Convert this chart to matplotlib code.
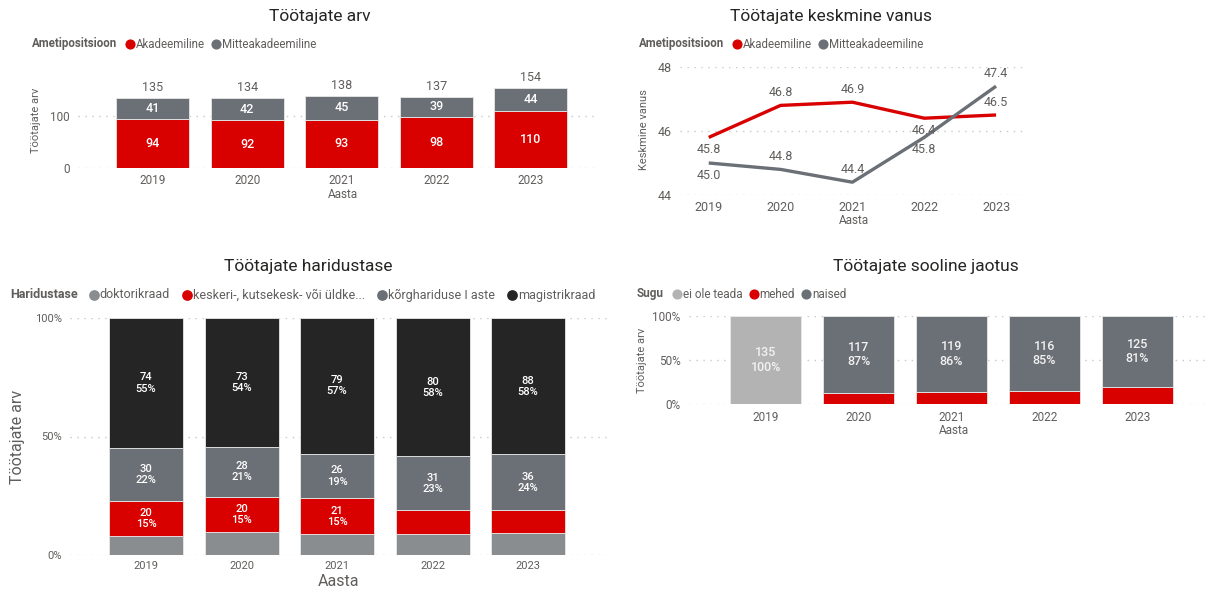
import matplotlib.pyplot as plt
from matplotlib.lines import Line2D

plt.rcParams['font.family'] = ['Roboto', 'DejaVu Sans']

years = ['2019', '2020', '2021', '2022', '2023']

akad_arv = [94, 92, 93, 98, 110]
mitteakad_arv = [41, 42, 45, 39, 44]

akad_vanus = [45.8, 46.8, 46.9, 46.4, 46.5]
mitteakad_vanus = [45.0, 44.8, 44.4, 45.8, 47.4]

doktor = [11, 13, 12, 12, 14]
keskeri = [20, 20, 21, 14, 15]
korg = [30, 28, 26, 31, 36]
magistri = [74, 73, 79, 80, 88]
haridus_labels = ['doktorikraad', 'keskeri-, kutsekesk- või üldke...',
                  'kõrghariduse I aste', 'magistrikraad']

ei_teada = [135, 0, 0, 0, 0]
mehed = [0, 17, 19, 21, 29]
naised = [0, 117, 119, 116, 125]
sugu_labels = ['ei ole teada', 'mehed', 'naised']

RED = '#D90000'
GRAY = '#6B6F76'
LGRAY = '#8A8D90'
BLACK = '#252525'
PALE = '#B3B3B3'
TXT = '#605E5C'
TITLE = '#252423'
GRID = '#C8C8C8'

W, H = 1208, 589
fig = plt.figure(figsize=(W / 100, H / 100), dpi=100)


def add_ax(x0, y0, x1, y1):
    return fig.add_axes([x0 / W, 1 - y1 / H, (x1 - x0) / W, (y1 - y0) / H])


def ftext(x, y, s, **kw):
    return fig.text(x / W, 1 - y / H, s, **kw)


def style(ax, yticks, ylabels, tsize=8.5, xpad=4):
    for s in ax.spines.values():
        s.set_visible(False)
    ax.set_yticks(yticks, ylabels)
    ax.set_xticks(range(len(years)), years)
    ax.tick_params(length=0, colors=TXT, labelsize=tsize)
    ax.tick_params(axis='x', pad=xpad)
    ax.tick_params(axis='y', pad=6)
    ax.grid(axis='y', linestyle=(0, (1, 4)), color=GRID, lw=1)
    ax.set_axisbelow(True)


def legend(x, y, title, labels, colors, size=8, g1=13, g2=11, ms=6.3):
    r = fig.canvas.get_renderer()
    t = ftext(x, y, title, fontsize=size, weight='bold', color=TXT, va='center')
    cx = t.get_window_extent(r).x1 + g1
    for lab, col in zip(labels, colors):
        fig.add_artist(Line2D([cx / W], [1 - y / H], marker='o', markersize=ms,
                              color=col, lw=0, transform=fig.transFigure))
        tt = fig.text((cx + 6) / W, 1 - y / H, lab, fontsize=size, color=TXT, va='center')
        cx = tt.get_window_extent(r).x1 + g2


x = list(range(len(years)))

# ---- Töötajate arv ----
ax1 = add_ax(78, 64, 597, 168)
ax1.bar(x, akad_arv, width=0.77, color=RED, edgecolor='#E8E8E8', lw=0.6)
ax1.bar(x, mitteakad_arv, width=0.77, bottom=akad_arv, color=GRAY, edgecolor='#E8E8E8', lw=0.6)
for i in x:
    tot = akad_arv[i] + mitteakad_arv[i]
    ax1.text(i, akad_arv[i] / 2, str(akad_arv[i]), ha='center', va='center',
             color='white', fontsize=9, weight='medium')
    ax1.text(i, akad_arv[i] + mitteakad_arv[i] / 2, str(mitteakad_arv[i]), ha='center',
             va='center', color='white', fontsize=9, weight='medium')
    ax1.annotate(str(tot), (i, tot), xytext=(0, 7.5), textcoords='offset points',
                 ha='center', va='center', color=TXT, fontsize=9)
ax1.set_xlim(-0.79, 4.70)
ax1.set_ylim(0, 200)
style(ax1, [0, 100], ['0', '100'])
ftext(320, 16, 'Töötajate arv', fontsize=12.5, color=TITLE, ha='center', va='center')
ftext(36, 120, 'Töötajate arv', fontsize=8, color=TXT, ha='center', va='center', rotation=90)
ftext(343, 194, 'Aasta', fontsize=8.5, color=TXT, ha='center', va='center')
legend(32, 44, 'Ametipositsioon', ['Akadeemiline', 'Mitteakadeemiline'], [RED, GRAY], size=8.3)

# ---- Töötajate keskmine vanus ----
ax2 = add_ax(680, 67, 1023, 195)
ax2.plot(x, akad_vanus, color=RED, lw=2.4, solid_capstyle='butt')
ax2.plot(x, mitteakad_vanus, color=GRAY, lw=2.4, solid_capstyle='butt')
akad_pos = [-1, 1, 1, -1, 1]
mitte_pos = [-1, 1, 1, -1, 1]
for i in x:
    ax2.annotate(f'{akad_vanus[i]:.1f}', (i, akad_vanus[i]), xytext=(0, 9 * akad_pos[i]),
                 textcoords='offset points', ha='center', va='center', color=TXT, fontsize=9)
    ax2.annotate(f'{mitteakad_vanus[i]:.1f}', (i, mitteakad_vanus[i]),
                 xytext=(0, 9 * mitte_pos[i]), textcoords='offset points',
                 ha='center', va='center', color=TXT, fontsize=9)
ax2.set_xlim(-0.4, 4.375)
ax2.set_ylim(44, 48)
style(ax2, [44, 46, 48], ['44', '46', '48'], tsize=9)
ftext(831, 16, 'Töötajate keskmine vanus', fontsize=12.5, color=TITLE, ha='center', va='center')
ftext(644, 130, 'Keskmine vanus', fontsize=8, color=TXT, ha='center', va='center', rotation=90)
ftext(854, 220, 'Aasta', fontsize=8.5, color=TXT, ha='center', va='center')
legend(639, 44, 'Ametipositsioon', ['Akadeemiline', 'Mitteakadeemiline'], [RED, GRAY], size=8.3)

# ---- Töötajate haridustase ----
ax3 = add_ax(70, 318, 607, 555)
series = [doktor, keskeri, korg, magistri]
cols = [LGRAY, RED, GRAY, BLACK]
totals = [sum(v) for v in zip(*series)]
bottom = [0.0] * 5
for vals, col in zip(series, cols):
    share = [v / t for v, t in zip(vals, totals)]
    ax3.bar(x, share, width=0.775, bottom=bottom, color=col, edgecolor='#E8E8E8', lw=0.6)
    for i in x:
        if share[i] >= 0.12:
            ax3.text(i, bottom[i] + share[i] / 2, f'{vals[i]}\n{round(100 * share[i])}%',
                     ha='center', va='center', color='white', fontsize=8, weight='medium',
                     linespacing=1.15)
    bottom = [b + s for b, s in zip(bottom, share)]
ax3.set_xlim(-0.796, 4.827)
ax3.set_ylim(0, 1)
style(ax3, [0, 0.5, 1], ['0%', '50%', '100%'], tsize=8)
ftext(308, 266, 'Töötajate haridustase', fontsize=12.5, color=TITLE, ha='center', va='center')
ftext(18, 437, 'Töötajate arv', fontsize=11.5, color=TXT, ha='center', va='center', rotation=90)
ftext(338, 582, 'Aasta', fontsize=11.5, color=TXT, ha='center', va='center')
legend(10, 295, 'Haridustase', haridus_labels, cols, size=9, g1=16, g2=17, ms=6.7)

# ---- Töötajate sooline jaotus ----
ax4 = add_ax(689, 316, 1205, 404)
series = [ei_teada, mehed, naised]
cols = [PALE, RED, GRAY]
totals = [sum(v) for v in zip(*series)]
bottom = [0.0] * 5
for vals, col in zip(series, cols):
    share = [v / t for v, t in zip(vals, totals)]
    ax4.bar(x, share, width=0.765, bottom=bottom, color=col, edgecolor='#E8E8E8', lw=0.6)
    for i in x:
        if share[i] >= 0.2:
            ax4.text(i, bottom[i] + share[i] / 2, f'{vals[i]}\n{round(100 * share[i])}%',
                     ha='center', va='center', color='#F2F2F2', fontsize=9, weight='medium',
                     linespacing=1.15)
    bottom = [b + s for b, s in zip(bottom, share)]
ax4.set_xlim(-0.828, 4.73)
ax4.set_ylim(0, 1)
style(ax4, [0, 0.5, 1], ['0%', '50%', '100%'], tsize=8.5, xpad=5)
ftext(926, 266, 'Töötajate sooline jaotus', fontsize=12.5, color=TITLE, ha='center', va='center')
ftext(642, 360, 'Töötajate arv', fontsize=8, color=TXT, ha='center', va='center', rotation=90)
ftext(954, 430, 'Aasta', fontsize=8.5, color=TXT, ha='center', va='center')
legend(637, 294, 'Sugu', sugu_labels, cols, size=8.5, g1=13, g2=11)

fig.savefig('out.png', dpi=100, facecolor='white')
